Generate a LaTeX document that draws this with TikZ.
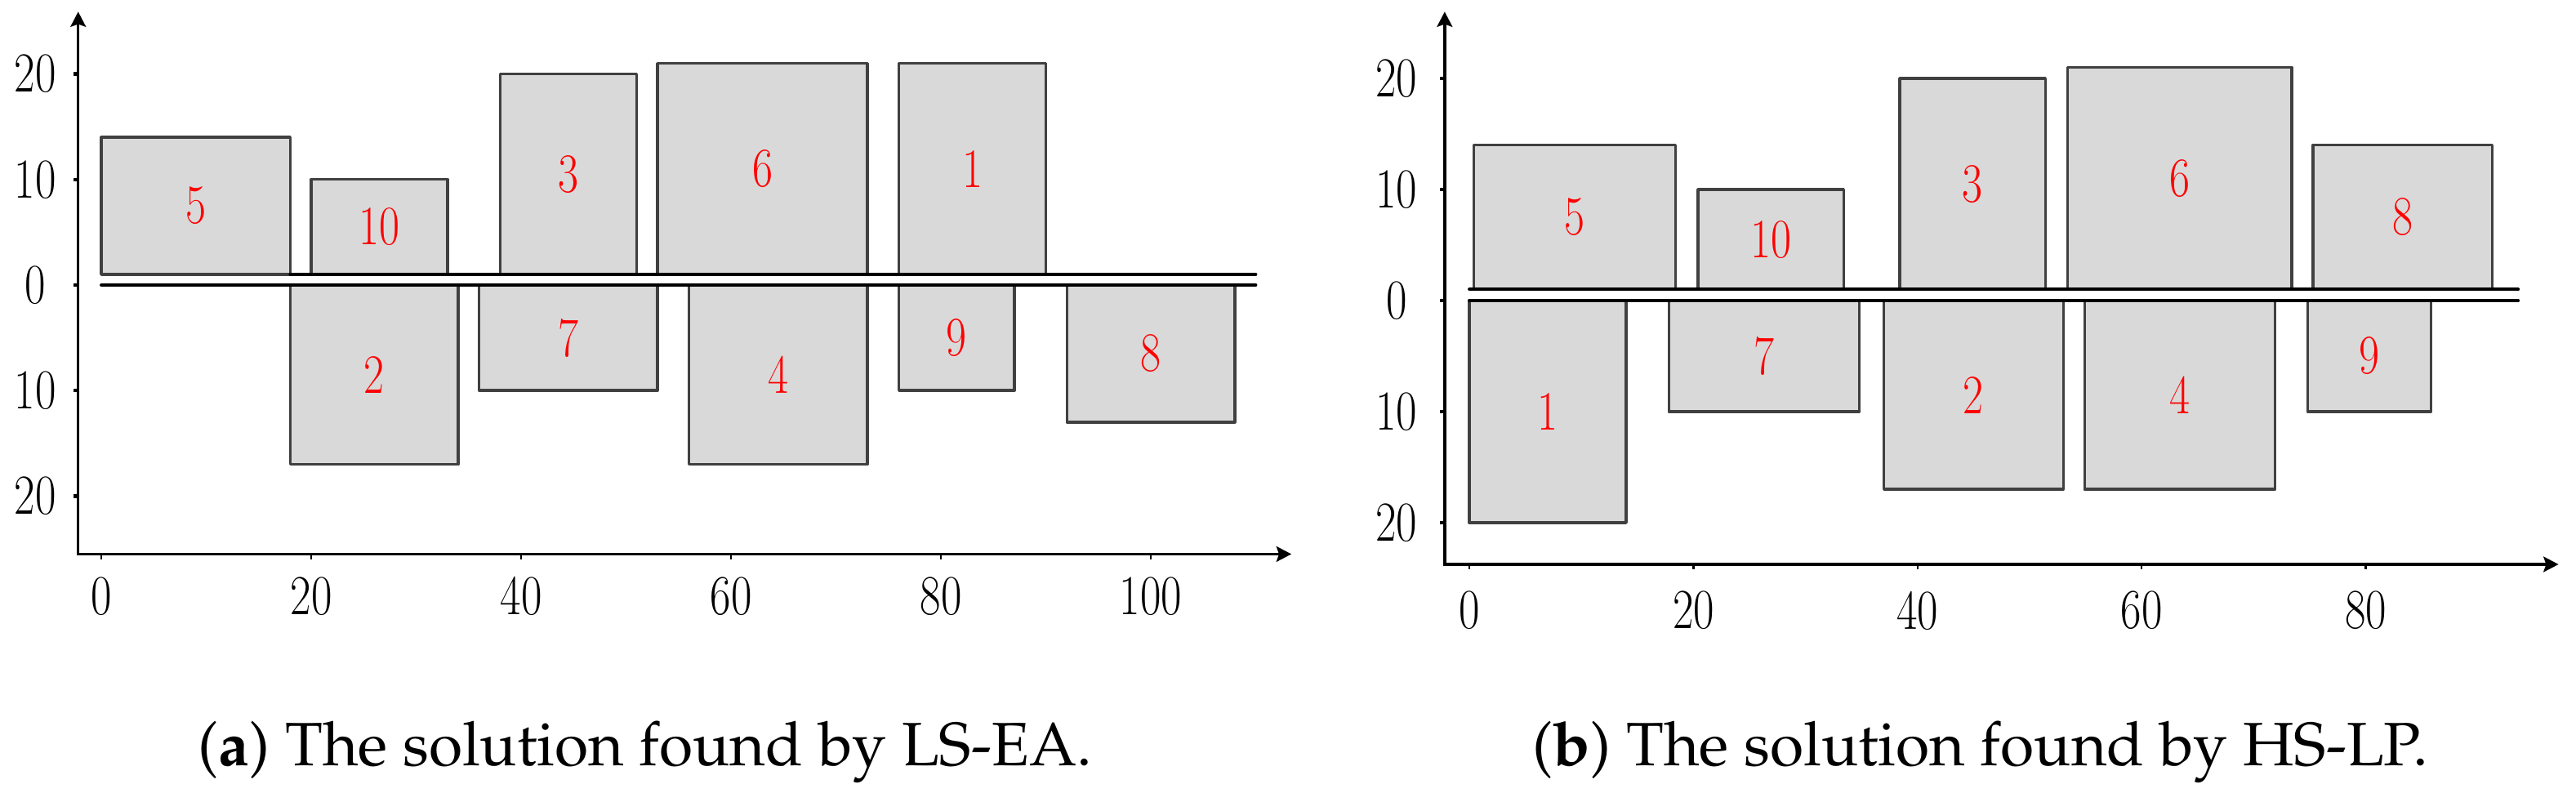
\documentclass[tikz,border=0pt]{standalone}
\usepackage{graphicx}
\usetikzlibrary{arrows.meta}
\definecolor{boxfill}{RGB}{217,217,217}
\definecolor{boxline}{RGB}{64,64,64}
\tikzset{
  blk/.style={draw=boxline, fill=boxfill, line width=0.85pt, line join=round},
  lbl/.style={text=red, font=\fontsize{17}{17}\selectfont, inner sep=0pt},
  axisline/.style={line width=0.85pt, {Stealth[length=4.6pt,width=4.7pt,inset=0.8pt]}-{Stealth[length=4.6pt,width=4.7pt,inset=0.8pt]}},
  baseln/.style={line width=0.95pt, line cap=round},
  ytick/.style={line width=1.1pt},
  xtick/.style={line width=0.6pt},
  ticklab/.style={font=\fontsize{17.3}{17.3}\selectfont, inner sep=0pt},
  capt/.style={font=\fontencoding{T1}\fontfamily{ppl}\fontsize{18.75}{18.75}\selectfont, inner sep=0pt, anchor=base},
}
\newcommand{\bx}[6]{%
  \draw[blk] (#3,#4) rectangle (#5,#6);
  \node[lbl] (#1) at ({(#3+#5)/2},{(#4+#6)/2}) {\scalebox{0.8}[1]{#2}};}
\newcommand{\cnd}[1]{\scalebox{0.8}[1]{#1}}
\begin{document}
\begin{tikzpicture}
\useasboundingbox (0,0) rectangle (788.5pt,-245.5pt);
% ---------- panel (a) ----------
\begin{scope}[shift={(31pt,-87.25pt)}, x=3.2125pt, y=3.23pt]
  \coordinate (ayt) at (-2.2,25.9);
  \coordinate (ao) at (-2.2,-25.5);
  \coordinate (axt) at (113.4,-25.5);
  \draw[axisline] (ayt) -- (ao) -- (axt);
  \foreach \v/\t in {20/20,10/10,0/0,-10/10,-20/20}{
    \draw[ytick] (-2.2,\v) -- ++(-1.5pt,0);
    \node[ticklab] (ay\v) at (-6.3,\v) {\cnd{\t}};
  }
  \foreach \v in {0,20,40,60,80,100}{
    \draw[xtick] (\v,-25.5) -- ++(0,-1.6pt);
    \node[ticklab] (ax\v) at (\v,-29.5) {\cnd{\v}};
  }
  \bx{a5}{5}{0}{1}{18}{14}
  \bx{a10}{10}{20}{1}{33}{10}
  \bx{a3}{3}{38}{1}{51}{20}
  \bx{a6}{6}{53}{1}{73}{21}
  \bx{a1}{1}{76}{1}{90}{21}
  \bx{a2}{2}{18}{0}{34}{-17}
  \bx{a7}{7}{36}{0}{53}{-10}
  \bx{a4}{4}{56}{0}{73}{-17}
  \bx{a9}{9}{76}{0}{87}{-10}
  \bx{a8}{8}{92}{0}{108}{-13}
  \coordinate (au0) at (18,1);  \coordinate (au1) at (110,1);
  \coordinate (al0) at (0,0);   \coordinate (al1) at (110,0);
  \draw[baseln] (au0) -- (au1);
  \draw[baseln] (al0) -- (al1);
\end{scope}
% ---------- panel (b) ----------
\begin{scope}[shift={(449.75pt,-92pt)}, x=3.43pt, y=3.4pt]
  \coordinate (byt) at (-2.2,26);
  \coordinate (bo) at (-2.2,-23.75);
  \coordinate (bxt) at (97.2,-23.75);
  \draw[axisline] (byt) -- (bo) -- (bxt);
  \foreach \v/\t in {20/20,10/10,0/0,-10/10,-20/20}{
    \draw[ytick] (-2.2,\v) -- ++(-1.5pt,0);
    \node[ticklab] (by\v) at (-6.5,\v) {\cnd{\t}};
  }
  \foreach \v in {0,20,40,60,80}{
    \draw[xtick] (\v,-23.75) -- ++(0,-1.6pt);
    \node[ticklab] (bx\v) at (\v,-27.9) {\cnd{\v}};
  }
  \bx{b5}{5}{0.4}{1}{18.4}{14}
  \bx{b10}{10}{20.4}{1}{33.4}{10}
  \bx{b3}{3}{38.4}{1}{51.4}{20}
  \bx{b6}{6}{53.4}{1}{73.4}{21}
  \bx{b8}{8}{75.3}{1}{91.3}{14}
  \bx{b1}{1}{0}{0}{14}{-20}
  \bx{b7}{7}{17.8}{0}{34.8}{-10}
  \bx{b2}{2}{37}{0}{53}{-17}
  \bx{b4}{4}{54.9}{0}{71.9}{-17}
  \bx{b9}{9}{74.8}{0}{85.8}{-10}
  \coordinate (bu0) at (0,1);  \coordinate (bu1) at (93.6,1);
  \coordinate (bl0) at (0,0);  \coordinate (bl1) at (93.6,0);
  \draw[baseln] (bu0) -- (bu1);
  \draw[baseln] (bl0) -- (bl1);
\end{scope}
% ---------- captions ----------
\node[capt] (capa) at (197.5pt,-234.25pt) {(\textbf{a}) The solution found by LS-EA.};
\node[capt] (capb) at (606.25pt,-234.25pt) {(\textbf{b}) The solution found by HS-LP.};
\end{tikzpicture}
\end{document}
